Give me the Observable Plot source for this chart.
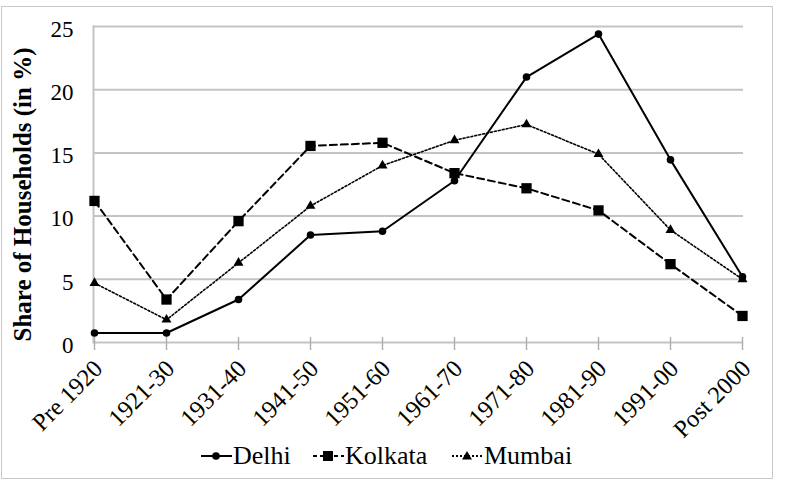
<!DOCTYPE html>
<html><head><meta charset="utf-8">
<script src="https://cdn.jsdelivr.net/npm/d3@7"></script>
<script src="https://cdn.jsdelivr.net/npm/@observablehq/plot@0.6"></script>
<style>
body{margin:0;background:#fff;font-family:"Liberation Serif","Times New Roman",serif;}
#frame{position:absolute;left:1px;top:6px;width:770px;height:471px;border:1.5px solid #c8c8c8;}
#chart{position:absolute;left:0;top:0;}
#legend{position:absolute;top:439px;left:0;width:786px;height:34px;font-size:26px;color:#000;}
.item{position:absolute;top:0;height:34px;display:flex;align-items:center;white-space:nowrap;}
.item svg{display:block;}
</style></head><body>
<div id="frame"></div><div id="chart"></div><div id="legend"></div>
<script>
const categories = ["Pre 1920","1921-30","1931-40","1941-50","1951-60","1961-70","1971-80","1981-90","1991-00","Post 2000"];
const delhi   = [0.75, 0.75, 3.4, 8.5, 8.8, 12.8, 21.0, 24.4, 14.45, 5.2];
const kolkata = [11.2, 3.4, 9.6, 15.55, 15.8, 13.4, 12.2, 10.45, 6.2, 2.1];
const mumbai  = [4.7, 1.8, 6.3, 10.8, 14.0, 16.0, 17.25, 14.9, 8.9, 5.0];
const seriesNames = ["Delhi","Kolkata","Mumbai"];
const yTicks = [0,5,10,15,20,25];

const rows = (vals, name) => categories.map((c,i) => ({cat:c, value:vals[i], city:name}));
const dD = rows(delhi, seriesNames[0]);
const dK = rows(kolkata, seriesNames[1]);
const dM = rows(mumbai, seriesNames[2]);

const font = '"Liberation Serif","Times New Roman",serif';
const chart = Plot.plot({
  width: 786, height: 440,
  marginLeft: 93, marginRight: 43, marginTop: 26, marginBottom: 98,
  style: {fontFamily: font, fontSize: "23px", color: "#000", background: "transparent", overflow: "visible"},
  x: {type: "point", domain: categories, padding: 0},
  y: {domain: [0,25]},
  marks: [
    Plot.gridY(yTicks, {stroke: "#c4c4c4", strokeOpacity: 1, strokeWidth: 2}),
    Plot.frame({anchor: "left", stroke: "#c4c4c4", strokeWidth: 2}),
    Plot.axisX({tickSize: 13, dy: -5, tickPadding: 0, stroke: "#b0b0b0", strokeWidth: 1.5, label: null, text: null}),
    Plot.axisX({tickSize: 0, tickPadding: 22, tickRotate: -45, fontSize: 24.5, label: null, dx: 4}),
    Plot.axisY(yTicks, {tickSize: 0, tickPadding: 20, fontSize: 23, dy: 3, label: "Share of Households (in %)", labelAnchor: "center", labelArrow: "none", labelOffset: 80}),
    Plot.line(dD, {x: "cat", y: "value", stroke: "#000", strokeWidth: 2}),
    Plot.line(dK, {x: "cat", y: "value", stroke: "#000", strokeWidth: 2, strokeDasharray: "7,4"}),
    Plot.line(dM, {x: "cat", y: "value", stroke: "#000", strokeWidth: 1.6, strokeDasharray: "2,2"}),
    Plot.dot(dD, {x: "cat", y: "value", fill: "#000", r: 3.8, symbol: "circle"}),
    Plot.dot(dK, {x: "cat", y: "value", fill: "#000", r: 5.8, symbol: "square"}),
    Plot.dot(dM, {x: "cat", y: "value", fill: "#000", r: 3.7, symbol: "triangle"})
  ]
});
chart.querySelectorAll("g[aria-label='y-axis label'] text").forEach(t => {
  t.style.fontWeight = "bold"; t.style.fontSize = "25px";
  const g = t.parentNode; g.setAttribute("transform", (g.getAttribute("transform") || "") + " translate(0,10)");
});
document.getElementById("chart").appendChild(chart);

// legend
const legend = document.getElementById("legend");
const legendItems = [
  {name: seriesNames[0], left: 200, dash: null, sym: "circle"},
  {name: seriesNames[1], left: 312, dash: "4,3", sym: "square"},
  {name: seriesNames[2], left: 451, dash: "2,2", sym: "triangle"}
];
legendItems.forEach(it => {
  const div = document.createElement("div");
  div.className = "item";
  div.style.left = it.left + "px";
  let marker;
  if (it.sym === "circle") marker = '<circle cx="16" cy="10" r="3.8" fill="#000"/>';
  else if (it.sym === "square") marker = '<rect x="11" y="5" width="10" height="10" fill="#000"/>';
  else marker = '<path d="M16,5 L21,13.5 L11,13.5 Z" fill="#000"/>';
  div.innerHTML = '<svg width="33" height="20"><line x1="1" y1="10" x2="32" y2="10" stroke="#000" stroke-width="2"' +
    (it.dash ? ' stroke-dasharray="' + it.dash + '"' : '') + '/>' + marker + '</svg><span>' + it.name + '</span>';
  legend.appendChild(div);
});
</script>
</body></html>
